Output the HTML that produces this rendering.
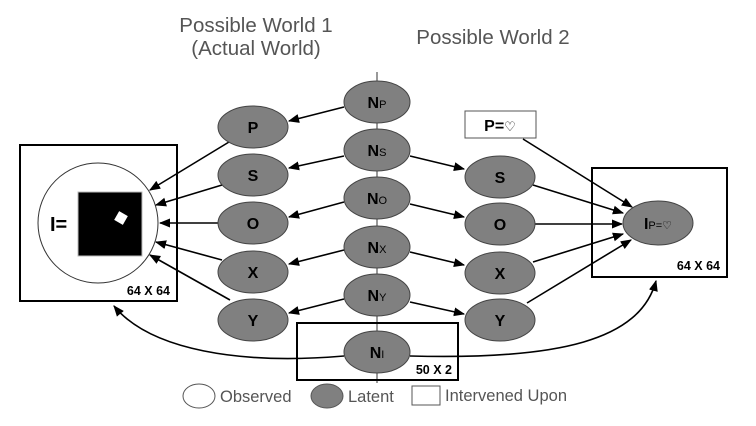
<!DOCTYPE html>
<html><head><style>body{margin:0;background:#fff}svg{display:block}</style></head><body>
<svg width="756" height="426" viewBox="0 0 756 426" xmlns="http://www.w3.org/2000/svg" font-family="Liberation Sans, sans-serif">
<defs><marker id="a" viewBox="0 0 10 10" refX="9" refY="5" markerWidth="7" markerHeight="7" orient="auto"><path d="M0,1 L10,5 L0,9 z" fill="#000"/></marker></defs>
<g fill="#555" font-size="20.5">
<text x="256" y="32" text-anchor="middle">Possible World 1</text>
<text x="256" y="55" text-anchor="middle">(Actual World)</text>
<text x="493" y="44" text-anchor="middle">Possible World 2</text>
</g>
<line x1="377" y1="72" x2="377" y2="383" stroke="#333" stroke-width="1"/>
<rect x="20" y="145" width="157" height="156" fill="none" stroke="#000" stroke-width="2"/>
<circle cx="98" cy="223" r="60" fill="#fff" stroke="#333"/>
<rect x="78" y="192" width="64" height="64" fill="#000" stroke="#bbb"/>
<rect x="116" y="213" width="10" height="10" fill="#fff" transform="rotate(30 121 218)"/>
<text x="50" y="231" font-size="20" font-weight="bold">I=</text>
<text x="170" y="295" font-size="12.5" font-weight="bold" text-anchor="end">64 X 64</text>
<rect x="592" y="168" width="135" height="109" fill="none" stroke="#000" stroke-width="2"/>
<text x="720" y="270" font-size="12.5" font-weight="bold" text-anchor="end">64 X 64</text>
<rect x="297" y="323" width="161" height="57" fill="none" stroke="#000" stroke-width="2"/>
<text x="452" y="374" font-size="12.5" font-weight="bold" text-anchor="end">50 X 2</text>
<rect x="465" y="111" width="71" height="27" fill="#fff" stroke="#555"/>
<text x="500" y="131" font-size="16" font-weight="bold" text-anchor="middle">P=<tspan font-weight="normal" font-size="13">♡</tspan></text>
<g stroke="#000" stroke-width="1.6" fill="none" marker-end="url(#a)">
<line x1="344" y1="107" x2="289" y2="121"/>
<line x1="344" y1="156" x2="289" y2="168"/>
<line x1="344" y1="202" x2="289" y2="217"/>
<line x1="344" y1="250" x2="289" y2="264"/>
<line x1="344" y1="299" x2="289" y2="313"/>
<line x1="410" y1="156" x2="464" y2="169"/>
<line x1="410" y1="204" x2="464" y2="217"/>
<line x1="410" y1="252" x2="464" y2="265"/>
<line x1="410" y1="302" x2="464" y2="314"/>
<line x1="229" y1="142" x2="150" y2="190"/>
<line x1="222" y1="185" x2="156" y2="205"/>
<line x1="218" y1="223" x2="160" y2="223"/>
<line x1="222" y1="260" x2="156" y2="242"/>
<line x1="230" y1="300" x2="150" y2="255"/>
<line x1="523" y1="139" x2="632" y2="207"/>
<line x1="533" y1="185" x2="623" y2="213"/>
<line x1="535" y1="224" x2="622" y2="224"/>
<line x1="533" y1="262" x2="623" y2="234"/>
<line x1="527" y1="303" x2="631" y2="240"/>
<path d="M344,356 C240,365 150,350 114,306"/>
<path d="M410,356 C560,360 640,340 656,281"/>
</g>
<g fill="#808080" stroke="#444" stroke-width="1">
<ellipse cx="253" cy="127" rx="35" ry="21"/>
<ellipse cx="253" cy="175" rx="35" ry="21"/>
<ellipse cx="253" cy="223" rx="35" ry="21"/>
<ellipse cx="253" cy="272" rx="35" ry="21"/>
<ellipse cx="253" cy="320" rx="35" ry="21"/>
<ellipse cx="377" cy="102" rx="33" ry="21"/>
<ellipse cx="377" cy="150" rx="33" ry="21"/>
<ellipse cx="377" cy="198" rx="33" ry="21"/>
<ellipse cx="377" cy="247" rx="33" ry="21"/>
<ellipse cx="377" cy="295" rx="33" ry="21"/>
<ellipse cx="377" cy="352" rx="33" ry="21"/>
<ellipse cx="500" cy="177" rx="35" ry="21"/>
<ellipse cx="500" cy="224" rx="35" ry="21"/>
<ellipse cx="500" cy="273" rx="35" ry="21"/>
<ellipse cx="500" cy="320" rx="35" ry="21"/>
<ellipse cx="658" cy="223" rx="35" ry="22"/>
</g>
<g font-size="16" font-weight="bold" text-anchor="middle" fill="#000">
<text x="253" y="133">P</text><text x="253" y="181">S</text><text x="253" y="229">O</text><text x="253" y="278">X</text><text x="253" y="326">Y</text>
<text x="500" y="183">S</text><text x="500" y="230">O</text><text x="500" y="279">X</text><text x="500" y="326">Y</text>
<text x="377" y="108">N<tspan font-size="11" font-weight="normal">P</tspan></text>
<text x="377" y="156">N<tspan font-size="11" font-weight="normal">S</tspan></text>
<text x="377" y="204">N<tspan font-size="11" font-weight="normal">O</tspan></text>
<text x="377" y="253">N<tspan font-size="11" font-weight="normal">X</tspan></text>
<text x="377" y="301">N<tspan font-size="11" font-weight="normal">Y</tspan></text>
<text x="377" y="358">N<tspan font-size="11" font-weight="normal">I</tspan></text>
<text x="658" y="229">I<tspan font-size="11" font-weight="normal">P=♡</tspan></text>
</g>
<ellipse cx="199" cy="396" rx="16" ry="12" fill="#fff" stroke="#555"/>
<ellipse cx="327" cy="396" rx="16" ry="12" fill="#808080" stroke="#555"/>
<rect x="412" y="386" width="28" height="19" fill="#fff" stroke="#555"/>
<g fill="#555" font-size="16.5">
<text x="220" y="402">Observed</text><text x="348" y="402">Latent</text><text x="445" y="401">Intervened Upon</text>
</g>
</svg>
</body></html>
